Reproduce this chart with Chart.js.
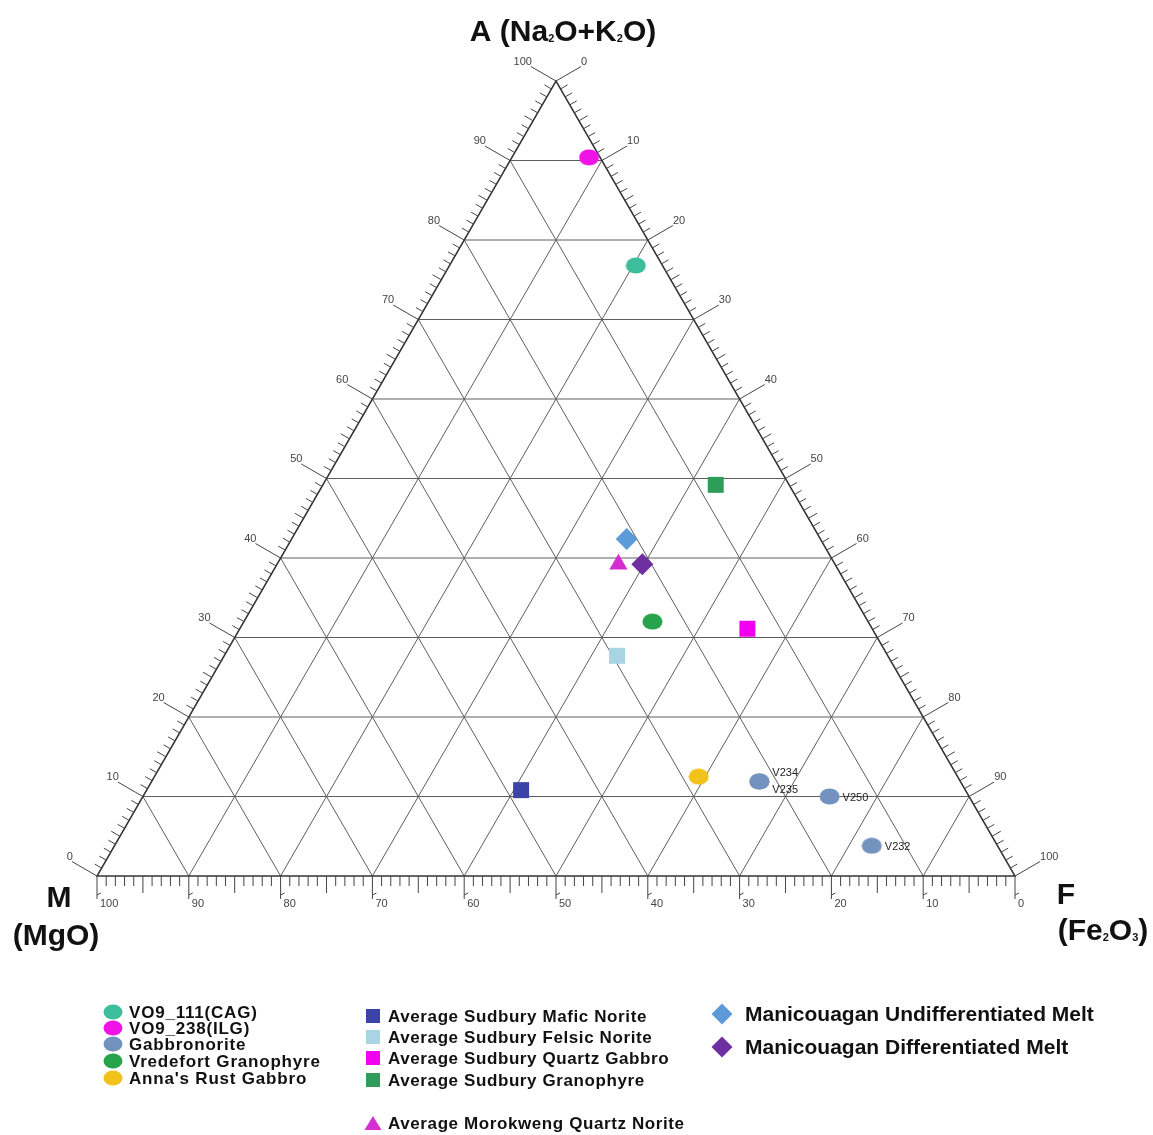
<!DOCTYPE html>
<html>
<head>
<meta charset="utf-8">
<script src="https://cdn.jsdelivr.net/npm/chart.js@4.4.1/dist/chart.umd.min.js"></script>
<style>
  html, body { margin: 0; padding: 0; background: #fff; }
</style>
</head>
<body>
<canvas id="ternary" width="1153" height="1135"></canvas>
<script>
// compositions as [A (Na2O+K2O), F (Fe2O3), M (MgO)]
var vo9_111 = [[76.8, 20.3, 2.9]];
var vo9_238 = [[90.4, 8.4, 1.2]];
var gabbronorite = [[11.9, 66.2, 21.9], [11.9, 66.2, 21.9], [10.0, 74.8, 15.2], [3.8, 82.5, 13.7]];
var gabbronoriteLabels = ['V234', 'V235', 'V250', 'V232'];
var vredefort = [[32.0, 44.5, 23.5]];
var annasRust = [[12.5, 59.3, 28.2]];
var sudburyMafic = [[10.8, 40.8, 48.4]];
var sudburyFelsic = [[27.7, 42.8, 29.5]];
var sudburyQtzGabbro = [[31.1, 55.3, 13.6]];
var sudburyGranophyre = [[49.2, 42.8, 8.0]];
var morokweng = [[39.2, 37.2, 23.6]];
var manicUndiff = [[42.4, 36.5, 21.1]];
var manicDiff = [[39.2, 39.8, 21.0]];

var tickValues = [0, 10, 20, 30, 40, 50, 60, 70, 80, 90, 100];

var H = Math.sqrt(3) / 2;

// ternary -> cartesian (side = 100)
function toXY(c) {
    var s = c[0] + c[1] + c[2];
    var a = c[0] / s * 100, f = c[1] / s * 100;
    return {x: f + a / 2, y: a * H};
}

function makeEllipse(color, w, h) {
    var c = document.createElement('canvas');
    c.width = w; c.height = h;
    var g = c.getContext('2d');
    g.fillStyle = color;
    g.beginPath();
    g.ellipse(w / 2, h / 2, w / 2 - 0.5, h / 2 - 0.5, 0, 0, Math.PI * 2);
    g.fill();
    return c;
}

var series = [
    {label: 'VO9_111(CAG)', data: vo9_111, color: '#3dbd9c', style: 'ellipse'},
    {label: 'VO9_238(ILG)', data: vo9_238, color: '#f013e8', style: 'ellipse'},
    {label: 'Gabbronorite', data: gabbronorite, color: '#7392bd', style: 'ellipse'},
    {label: 'Vredefort Granophyre', data: vredefort, color: '#27a34c', style: 'ellipse'},
    {label: "Anna's Rust Gabbro", data: annasRust, color: '#f0c21a', style: 'ellipse'},
    {label: 'Average Sudbury Mafic Norite', data: sudburyMafic, color: '#3b42a8', style: 'rect'},
    {label: 'Average Sudbury Felsic Norite', data: sudburyFelsic, color: '#a8d4e4', style: 'rect'},
    {label: 'Average Sudbury Quartz Gabbro', data: sudburyQtzGabbro, color: '#f000ee', style: 'rect'},
    {label: 'Average Sudbury Granophyre', data: sudburyGranophyre, color: '#2f9d5a', style: 'rect'},
    {label: 'Average Morokweng Quartz Norite', data: morokweng, color: '#d42ed2', style: 'triangle'},
    {label: 'Manicouagan Undifferentiated Melt', data: manicUndiff, color: '#5c9ad8', style: 'rectRot'},
    {label: 'Manicouagan Differentiated Melt', data: manicDiff, color: '#6e2fa0', style: 'rectRot'}
];

var datasets = series.map(function (s) {
    var ds = {
        label: s.label,
        data: s.data.map(toXY),
        backgroundColor: s.color,
        borderColor: s.color,
        borderWidth: 0,
        pointRadius: 10,
        pointHoverRadius: 10
    };
    if (s.style === 'ellipse') {
        ds.pointStyle = makeEllipse(s.color, 21, 17);
    } else if (s.style === 'rect') {
        ds.pointStyle = 'rect';
        ds.pointRadius = 11.3;
    } else if (s.style === 'triangle') {
        ds.pointStyle = 'triangle';
        ds.pointRadius = 10.5;
    } else {
        ds.pointStyle = 'rectRot';
        ds.pointRadius = 11;
    }
    return ds;
});

var FONT = '"Liberation Sans", Arial, sans-serif';

function drawRuns(ctx, runs, cx, baseline) {
    var total = 0;
    runs.forEach(function (r) {
        ctx.font = 'bold ' + r.size + 'px ' + FONT;
        r.w = ctx.measureText(r.t).width;
        total += r.w;
    });
    var x = cx - total / 2;
    ctx.textAlign = 'left';
    ctx.textBaseline = 'alphabetic';
    runs.forEach(function (r) {
        ctx.font = 'bold ' + r.size + 'px ' + FONT;
        ctx.fillText(r.t, x, baseline + (r.dy || 0));
        x += r.w;
    });
}

function drawMarker(ctx, style, color, x, y, w, h) {
    ctx.fillStyle = color;
    ctx.beginPath();
    if (style === 'ellipse') {
        ctx.ellipse(x, y, w / 2, h / 2, 0, 0, Math.PI * 2);
    } else if (style === 'rect') {
        ctx.rect(x - w / 2, y - h / 2, w, h);
    } else if (style === 'triangle') {
        ctx.moveTo(x, y - h / 2);
        ctx.lineTo(x + w / 2, y + h / 2);
        ctx.lineTo(x - w / 2, y + h / 2);
        ctx.closePath();
    } else {
        ctx.moveTo(x, y - h / 2);
        ctx.lineTo(x + w / 2, y);
        ctx.lineTo(x, y + h / 2);
        ctx.lineTo(x - w / 2, y);
        ctx.closePath();
    }
    ctx.fill();
}

var ternaryFrame = {
    id: 'ternaryFrame',
    beforeDatasetsDraw: function (chart) {
        var ctx = chart.ctx;
        var xs = chart.scales.x, ys = chart.scales.y;
        function P(a, f, m) {
            var p = toXY([a, f, m]);
            return {x: xs.getPixelForValue(p.x), y: ys.getPixelForValue(p.y)};
        }
        function line(p, q) {
            ctx.beginPath();
            ctx.moveTo(p.x, p.y);
            ctx.lineTo(q.x, q.y);
            ctx.stroke();
        }
        ctx.save();
        // grid
        ctx.strokeStyle = '#5e5e5e';
        ctx.lineWidth = 1;
        for (var i = 1; i < 10; i++) {
            var v = i * 10;
            line(P(v, 0, 100 - v), P(v, 100 - v, 0));   // constant A
            line(P(0, v, 100 - v), P(100 - v, v, 0));   // constant F
            line(P(0, 100 - v, v), P(100 - v, 0, v));   // constant M
        }
        // outline
        ctx.strokeStyle = '#333';
        ctx.lineWidth = 1.5;
        var pm = P(0, 0, 100), pf = P(0, 100, 0), pa = P(100, 0, 0);
        ctx.beginPath();
        ctx.moveTo(pm.x, pm.y);
        ctx.lineTo(pf.x, pf.y);
        ctx.lineTo(pa.x, pa.y);
        ctx.closePath();
        ctx.stroke();

        // ticks
        ctx.strokeStyle = '#444';
        ctx.lineWidth = 1;
        ctx.fillStyle = '#444';
        ctx.font = '11px ' + FONT;
        var nl = {x: -H, y: -0.5}, nr = {x: H, y: -0.5};
        for (var t = 0; t <= 100; t++) {
            var major = t % 10 === 0, mid = t % 5 === 0;
            // bottom: MgO
            var b = P(0, 100 - t, t);
            var len = major ? 23 : (mid ? 17 : 10);
            line(b, {x: b.x, y: b.y + len});
            // left: A
            var l = P(t, 0, 100 - t);
            var ll = major ? 29 : (mid ? 10 : 8);
            var le = {x: l.x + nl.x * ll, y: l.y + nl.y * ll};
            line(l, le);
            // right: F
            var r = P(100 - t, t, 0);
            var re = {x: r.x + nr.x * ll, y: r.y + nr.y * ll};
            line(r, re);
            if (major) {
                ctx.textBaseline = 'middle';
                ctx.textAlign = 'left';
                ctx.fillText(String(t), b.x + 3, b.y + 28);
                line({x: b.x, y: b.y + 19}, {x: b.x + 4, y: b.y + 17});
                ctx.textAlign = 'right';
                ctx.fillText(String(t), le.x + 1, le.y - 5);
                ctx.textAlign = 'left';
                ctx.fillText(String(t), re.x, re.y - 5);
            }
        }
        ctx.restore();
    },
    afterDraw: function (chart) {
        var ctx = chart.ctx;
        ctx.save();
        ctx.fillStyle = '#111';
        drawRuns(ctx, [
            {t: 'A (Na', size: 30}, {t: '2', size: 11, dy: 1},
            {t: 'O+K', size: 30}, {t: '2', size: 11, dy: 1}, {t: 'O)', size: 30}
        ], 563, 41);
        drawRuns(ctx, [{t: 'M', size: 30}], 59, 907);
        drawRuns(ctx, [{t: '(MgO)', size: 30}], 56, 945);
        drawRuns(ctx, [{t: 'F', size: 30}], 1066, 904);
        drawRuns(ctx, [
            {t: '(Fe', size: 30}, {t: '2', size: 11, dy: 1},
            {t: 'O', size: 30}, {t: '3', size: 11, dy: 1}, {t: ')', size: 30}
        ], 1103, 940);

        // gabbronorite sample labels
        var meta = chart.getDatasetMeta(2);
        var offs = [[13, -8], [13, 9], [13, 1], [13, 1]];
        ctx.font = '11px ' + FONT;
        ctx.fillStyle = '#222';
        ctx.textAlign = 'left';
        ctx.textBaseline = 'middle';
        meta.data.forEach(function (pt, k) {
            ctx.fillText(gabbronoriteLabels[k], pt.x + offs[k][0], pt.y + offs[k][1]);
        });

        // legend, three columns
        var cols = [
            {items: [0, 1, 2, 3, 4], mx: 113, tx: 129, ys: [1012, 1028, 1044, 1061, 1078], size: 17, sp: '0.8px', w: 19, h: 15},
            {items: [5, 6, 7, 8, 9], mx: 373, tx: 388, ys: [1016, 1037, 1058, 1080, 1123], size: 17, sp: '0.6px', w: 14, h: 14},
            {items: [10, 11], mx: 722, tx: 745, ys: [1014, 1047], size: 21, sp: '0px', w: 21, h: 21}
        ];
        cols.forEach(function (col) {
            col.items.forEach(function (idx, k) {
                var s = series[idx];
                var w = col.w, h = col.h;
                if (s.style === 'triangle') { w = 17; h = 14; }
                drawMarker(ctx, s.style, s.color, col.mx, col.ys[k], w, h);
                ctx.fillStyle = '#111';
                ctx.font = 'bold ' + col.size + 'px ' + FONT;
                ctx.letterSpacing = col.sp;
                ctx.textAlign = 'left';
                ctx.textBaseline = 'middle';
                if (idx >= 10) ctx.fillText(s.label, col.tx, col.ys[k] + 1, 350);
                else ctx.fillText(s.label, col.tx, col.ys[k] + 1);
                ctx.letterSpacing = '0px';
            });
        });
        ctx.restore();
    }
};

var ctx = document.getElementById('ternary').getContext('2d');
var chart = new Chart(ctx, {
    type: 'scatter',
    data: {datasets: datasets},
    options: {
        responsive: false,
        animation: false,
        devicePixelRatio: 1,
        layout: {padding: {left: 97, right: 138, top: 81, bottom: 259}},
        scales: {
            x: {type: 'linear', min: 0, max: 100, display: false},
            y: {type: 'linear', min: 0, max: 100 * H, display: false}
        },
        plugins: {
            legend: {display: false},
            tooltip: {enabled: false}
        }
    },
    plugins: [ternaryFrame]
});
</script>
</body>
</html>
